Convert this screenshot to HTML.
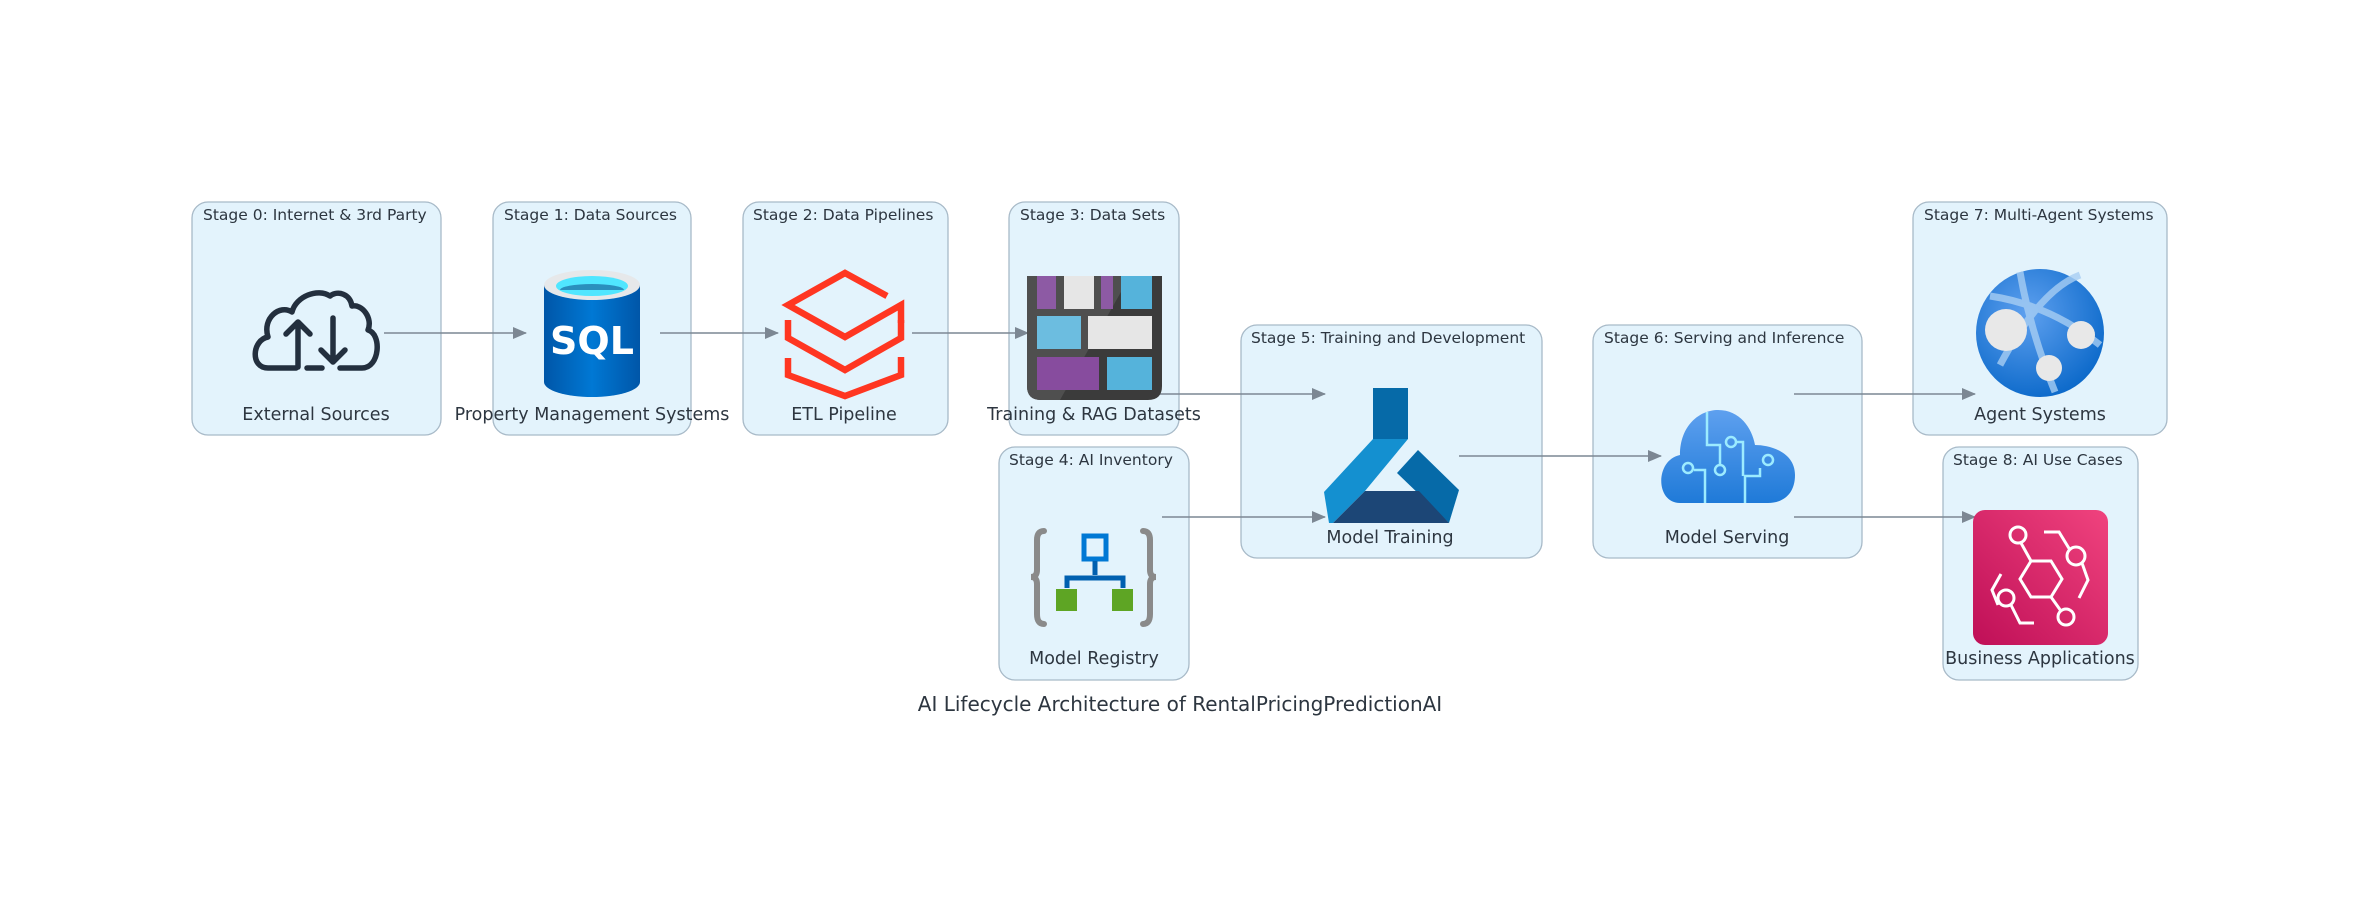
<!DOCTYPE html>
<html><head><meta charset="utf-8"><style>
html,body{margin:0;padding:0;background:#fff;}
svg{display:block;}
text{font-family:"DejaVu Sans","Liberation Sans",sans-serif;fill:#2d3640;}
.st{font-size:15.5px;}
.nl{font-size:17.5px;text-anchor:middle;}
.box{fill:#e3f3fc;stroke:#a8bac8;stroke-width:1.3;}
.ar{stroke:#7c8793;stroke-width:1.5;fill:none;}
</style></head><body>
<svg width="2360" height="916" viewBox="0 0 2360 916" xmlns="http://www.w3.org/2000/svg">
<defs>
<marker id="ah" markerWidth="14" markerHeight="12" refX="13" refY="6" orient="auto" markerUnits="userSpaceOnUse">
<path d="M0,0 L14,6 L0,12 z" fill="#7c8793"/></marker>
<linearGradient id="sqlg" x1="0" x2="1"><stop offset="0" stop-color="#0056a8"/><stop offset="0.5" stop-color="#0078d4"/><stop offset="1" stop-color="#0056a8"/></linearGradient>
<linearGradient id="pink" x1="0" y1="1" x2="1" y2="0"><stop offset="0" stop-color="#bf0f57"/><stop offset="1" stop-color="#f0437e"/></linearGradient>
<radialGradient id="glb" cx="0.4" cy="0.35" r="0.7"><stop offset="0" stop-color="#5ea0ef"/><stop offset="1" stop-color="#0a68c9"/></radialGradient>
<linearGradient id="cld" x1="0" y1="0" x2="0" y2="1"><stop offset="0" stop-color="#5ea0ef"/><stop offset="1" stop-color="#1f7ad8"/></linearGradient>
</defs>

<rect class="box" x="192" y="202" width="249" height="233" rx="16"/>
<rect class="box" x="493" y="202" width="198" height="233" rx="16"/>
<rect class="box" x="743" y="202" width="205" height="233" rx="16"/>
<rect class="box" x="1009" y="202" width="170" height="233" rx="16"/>
<rect class="box" x="999" y="447" width="190" height="233" rx="16"/>
<rect class="box" x="1241" y="325" width="301" height="233" rx="16"/>
<rect class="box" x="1593" y="325" width="269" height="233" rx="16"/>
<rect class="box" x="1913" y="202" width="254" height="233" rx="16"/>
<rect class="box" x="1943" y="447" width="195" height="233" rx="16"/>

<text class="st" x="203" y="220">Stage 0: Internet &amp; 3rd Party</text>
<text class="st" x="504" y="220">Stage 1: Data Sources</text>
<text class="st" x="753" y="220">Stage 2: Data Pipelines</text>
<text class="st" x="1020" y="220">Stage 3: Data Sets</text>
<text class="st" x="1009" y="465">Stage 4: AI Inventory</text>
<text class="st" x="1251" y="343">Stage 5: Training and Development</text>
<text class="st" x="1604" y="343">Stage 6: Serving and Inference</text>
<text class="st" x="1924" y="220">Stage 7: Multi-Agent Systems</text>
<text class="st" x="1953" y="465">Stage 8: AI Use Cases</text>

<line class="ar" x1="384" y1="333" x2="526" y2="333" marker-end="url(#ah)"/>
<line class="ar" x1="660" y1="333" x2="778" y2="333" marker-end="url(#ah)"/>
<line class="ar" x1="912" y1="333" x2="1028" y2="333" marker-end="url(#ah)"/>
<line class="ar" x1="1160" y1="394" x2="1325" y2="394" marker-end="url(#ah)"/>
<line class="ar" x1="1162" y1="517" x2="1325" y2="517" marker-end="url(#ah)"/>
<line class="ar" x1="1459" y1="456" x2="1661" y2="456" marker-end="url(#ah)"/>
<line class="ar" x1="1794" y1="394" x2="1975" y2="394" marker-end="url(#ah)"/>
<line class="ar" x1="1794" y1="517" x2="1975" y2="517" marker-end="url(#ah)"/>

<g fill="none" stroke="#232f3e" stroke-width="5.5" stroke-linejoin="round" stroke-linecap="round">
<path d="M296,368 H268 C250,368 252,340 268,337 C262,318 280,304 292,312 C296,296 318,288 330,296 C338,290 350,294 352,306 C362,304 373,318 368,330 C382,334 380,368 362,368 H340"/>
<path d="M298,367 V322 M286,334 L298,322 L310,334"/>
<path d="M333,318 V362 M321,350 L333,362 L345,350"/>
<path d="M307,368 H322"/>
</g>

<path d="M544,285 V382 A48,15 0 0 0 640,382 V285 Z" fill="url(#sqlg)"/>
<ellipse cx="592" cy="285" rx="48" ry="15" fill="#e6e8ea"/>
<ellipse cx="592" cy="286" rx="36" ry="10" fill="#50e6ff"/>
<path d="M560,290 A32,6 0 0 1 624,290" fill="#2a8fbd"/>
<text x="592" y="354" font-size="38" font-weight="bold" text-anchor="middle" style="fill:#fff">SQL</text>

<g fill="none" stroke="#ff3621" stroke-width="6.5" stroke-linejoin="miter">
<path d="M887,296 L845,273 L788,305 L845,337 L901,305 V323"/>
<path d="M788,320 V338 L845,370 L901,338 V320"/>
<path d="M788,358 V375 L845,396 L901,375 V357"/>
</g>

<path d="M1027,276 H1162 V386 Q1162,400 1148,400 H1041 Q1027,400 1027,386 Z" fill="#3b3b3b"/>
<path d="M1027,276 H1130 L1060,400 H1041 Q1027,400 1027,386 Z" fill="#4f4f4f"/>
<rect x="1037" y="276" width="19" height="33" fill="#8d5aa4"/>
<rect x="1064" y="276" width="30" height="33" fill="#e6e6e6"/>
<rect x="1101" y="276" width="12" height="33" fill="#8d5aa4"/>
<rect x="1121" y="276" width="31" height="33" fill="#55b3db"/>
<rect x="1037" y="316" width="44" height="33" fill="#6cbde0"/>
<rect x="1088" y="316" width="64" height="33" fill="#e6e6e6"/>
<rect x="1037" y="357" width="62" height="33" fill="#874c9e"/>
<rect x="1107" y="357" width="45" height="33" fill="#55b3db"/>

<g fill="none" stroke="#8a8a8a" stroke-width="6" stroke-linecap="round">
<path d="M1044,531 Q1037,531 1037,540 V570 Q1037,577 1031,577 Q1037,577 1037,584 V614 Q1037,624 1044,624"/>
<path d="M1143,531 Q1150,531 1150,540 V570 Q1150,577 1156,577 Q1150,577 1150,584 V614 Q1150,624 1143,624"/>
</g>
<rect x="1084" y="536" width="22" height="23" fill="none" stroke="#0078d4" stroke-width="5"/>
<path d="M1095,561 V575 M1067,588 V578 H1123 V588" fill="none" stroke="#0060b0" stroke-width="5"/>
<rect x="1056" y="589" width="21" height="22" fill="#5ea524"/>
<rect x="1112" y="589" width="21" height="22" fill="#5ea524"/>

<!-- model training -->
<rect x="1373" y="388" width="35" height="51" fill="#066aa8"/>
<path d="M1373,439 H1408 L1365,491 L1333,523 L1329,523 L1324,492 Z" fill="#1490d0"/>
<path d="M1418,450 L1459,490 L1449,523 L1397,473 Z" fill="#066aa8"/>
<path d="M1365,491 H1419 L1449,523 H1333 Z" fill="#1c4676"/>

<path d="M1680,503 C1655,503 1655,460 1680,455 C1680,425 1700,410 1718,410 C1740,410 1752,428 1755,445 C1770,445 1795,452 1795,475 C1795,495 1782,503 1768,503 Z" fill="url(#cld)"/>
<g fill="none" stroke="#9cebff" stroke-width="2.5">
<path d="M1707,412 V445 H1720 V465"/>
<circle cx="1720" cy="470" r="5"/>
<path d="M1705,503 V470 H1694"/><circle cx="1688" cy="468" r="5"/>
<path d="M1745,503 V476 H1760 V468"/><circle cx="1768" cy="460" r="5"/>
<circle cx="1731" cy="442" r="5"/><path d="M1736,442 H1743 V476"/>
</g>

<ellipse cx="2040" cy="333" rx="64" ry="64" fill="url(#glb)"/>
<path d="M1990,296 Q2050,305 2100,345 M2000,365 Q2040,290 2080,275 M2020,272 Q2030,330 2055,392" fill="none" stroke="#a6cdf2" stroke-width="7" opacity="0.8"/>
<circle cx="2006" cy="330" r="21" fill="#e8e8e8"/>
<circle cx="2081" cy="335" r="14" fill="#e8e8e8"/>
<circle cx="2049" cy="368" r="13" fill="#e8e8e8"/>

<rect x="1973" y="510" width="135" height="135" rx="12" fill="url(#pink)"/>
<g fill="none" stroke="#fff" stroke-width="3">
<circle cx="2018" cy="535" r="8"/><circle cx="2076" cy="556" r="9"/><circle cx="2006" cy="598" r="8"/><circle cx="2066" cy="617" r="8"/>
<path d="M2021,543 L2031,561 H2051 L2062,579 L2051,597 H2031 L2020,579 L2031,561"/>
<path d="M2044,532 H2059 L2070,550 M2082,563 L2088,580 L2079,598 M1998,605 L1992,590 L2001,574 M2051,597 L2061,611 M2011,605 L2020,623 H2034"/>
</g>

<text class="nl" x="316" y="420">External Sources</text>
<text class="nl" x="592" y="420">Property Management Systems</text>
<text class="nl" x="844" y="420">ETL Pipeline</text>
<text class="nl" x="1094" y="420">Training &amp; RAG Datasets</text>
<text class="nl" x="1094" y="664">Model Registry</text>
<text class="nl" x="1390" y="543">Model Training</text>
<text class="nl" x="1727" y="543">Model Serving</text>
<text class="nl" x="2040" y="420">Agent Systems</text>
<text class="nl" x="2040" y="664">Business Applications</text>

<text x="1180" y="711" font-size="20" text-anchor="middle">AI Lifecycle Architecture of RentalPricingPredictionAI</text>
</svg>
</body></html>
